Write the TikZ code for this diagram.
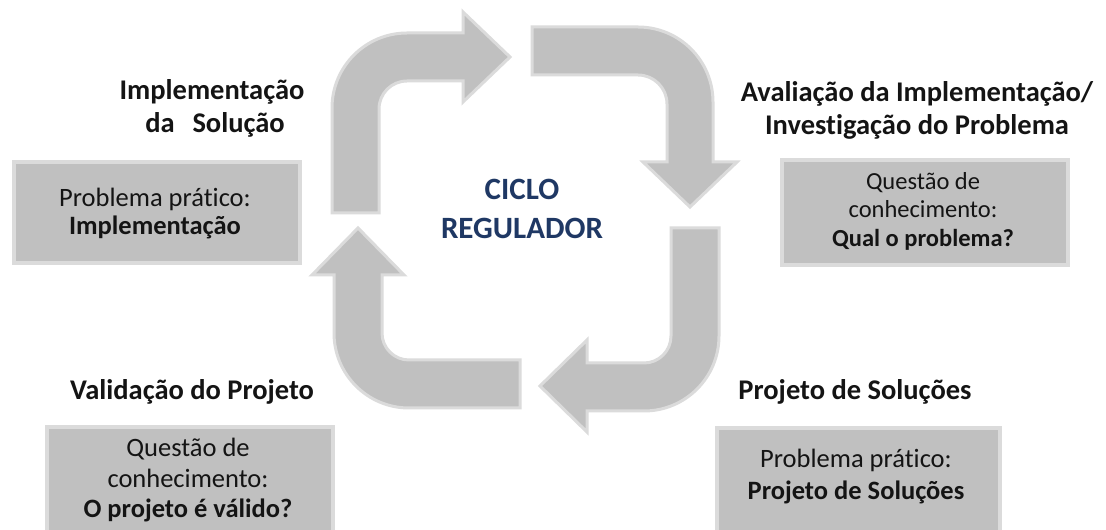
\documentclass[tikz,border=0pt]{standalone}
\usepackage{fontspec}
\setmainfont{Carlito}[Ligatures=CommonOff]
\definecolor{shapefill}{HTML}{C0C0C0}
\definecolor{shapeedge}{HTML}{DBDBDB}
\definecolor{navyink}{HTML}{1F3864}
\definecolor{ink}{HTML}{141414}
\tikzset{
  bentarrow/.style={fill=shapefill, draw=shapeedge, line width=3pt, line join=miter},
  infobox/.style={fill=shapefill, draw=shapeedge, line width=4pt, inner sep=0pt, anchor=south west},
  titletxt/.style={anchor=base, inner sep=0pt, text=ink, font=\fontsize{28.5}{33}\selectfont\bfseries},
  boxtxt/.style={anchor=base, inner sep=0pt, text=ink, font=\fontsize{26.5}{30}\selectfont},
  boxtxtb/.style={boxtxt, font=\fontsize{26.5}{30}\selectfont\bfseries},
  smalltxt/.style={anchor=base, inner sep=0pt, text=ink, font=\fontsize{24.5}{28}\selectfont},
  smalltxtb/.style={smalltxt, font=\fontsize{24.5}{28}\selectfont\bfseries},
  centretxt/.style={anchor=base, inner sep=0pt, text=navyink, font=\fontsize{31}{36}\selectfont\bfseries}
}
\begin{document}
\begin{tikzpicture}[x=1pt,y=1pt]
\fill[white] (0,0) rectangle (1106,530);
\useasboundingbox (0,0) rectangle (1106,530);

% top-left arrow (up then right)
\path[bentarrow] (332,317) -- (332,422) arc[start angle=180,end angle=90,radius=75]
  -- (463,497) -- (463,518) -- (510,473) -- (463,428) -- (463,449)
  -- (407,449) arc[start angle=90,end angle=180,radius=28] -- (379,317) -- cycle;
% top-right arrow (right then down)
\path[bentarrow] (532,503) -- (638,503) arc[start angle=90,end angle=0,radius=75]
  -- (713,368) -- (737,368) -- (690,323) -- (643,368) -- (667,368)
  -- (667,426) arc[start angle=0,end angle=90,radius=29] -- (532,455) -- cycle;
% bottom-right arrow (down then left)
\path[bentarrow] (719,302) -- (719,194) arc[start angle=0,end angle=-90,radius=75]
  -- (587,119) -- (587,98) -- (540,144) -- (587,190) -- (587,167)
  -- (644,167) arc[start angle=-90,end angle=0,radius=27] -- (671,302) -- cycle;
% bottom-left arrow (left then up)
\path[bentarrow] (520,122) -- (409,122) arc[start angle=-90,end angle=-180,radius=75]
  -- (334,255) -- (312,255) -- (358,302) -- (404,255) -- (382,255)
  -- (382,197) arc[start angle=180,end angle=270,radius=27] -- (520,170) -- cycle;

% centre
\node[centretxt] (c1) at (522,330) {CICLO};
\node[centretxt] (c2) at (522,291) {REGULADOR};

% boxes
\node[infobox, minimum width=286pt, minimum height=101pt] (b1) at (12,265) {};
\node[infobox, minimum width=286pt, minimum height=105pt] (b2) at (780,263) {};
\node[infobox, minimum width=286pt, minimum height=111pt] (b3) at (45,-10) {};
\node[infobox, minimum width=283pt, minimum height=110pt] (b4) at (715,-10) {};

% titles
\node[titletxt] (t1a) at (212,430) {Implementação};
\node[titletxt] (t1b) at (215,397) {da\hspace{0.4em} Solução};
\node[titletxt] (t2a) at (917,428) {Avaliação da Implementação/};
\node[titletxt] (t2b) at (917,395) {Investigação do Problema};
\node[titletxt] (t3) at (192,130) {Validação do Projeto};
\node[titletxt] (t4) at (855,130) {Projeto de Soluções};

% box texts
\node[boxtxt] (b1a) at (155,323) {Problema prático:};
\node[boxtxtb] (b1b) at (155,295) {Implementação};
\node[smalltxt] (b2a) at (923,340) {Questão de};
\node[smalltxt] (b2b) at (923,312) {conhecimento:};
\node[smalltxtb] (b2c) at (923,283) {Qual o problema?};
\node[boxtxt] (b3a) at (188,73) {Questão de};
\node[boxtxt] (b3b) at (188,42) {conhecimento:};
\node[boxtxtb] (b3c) at (188,12) {O projeto é válido?};
\node[boxtxt] (b4a) at (856,62) {Problema prático:};
\node[boxtxtb] (b4b) at (856,30) {Projeto de Soluções};
\end{tikzpicture}
\end{document}
